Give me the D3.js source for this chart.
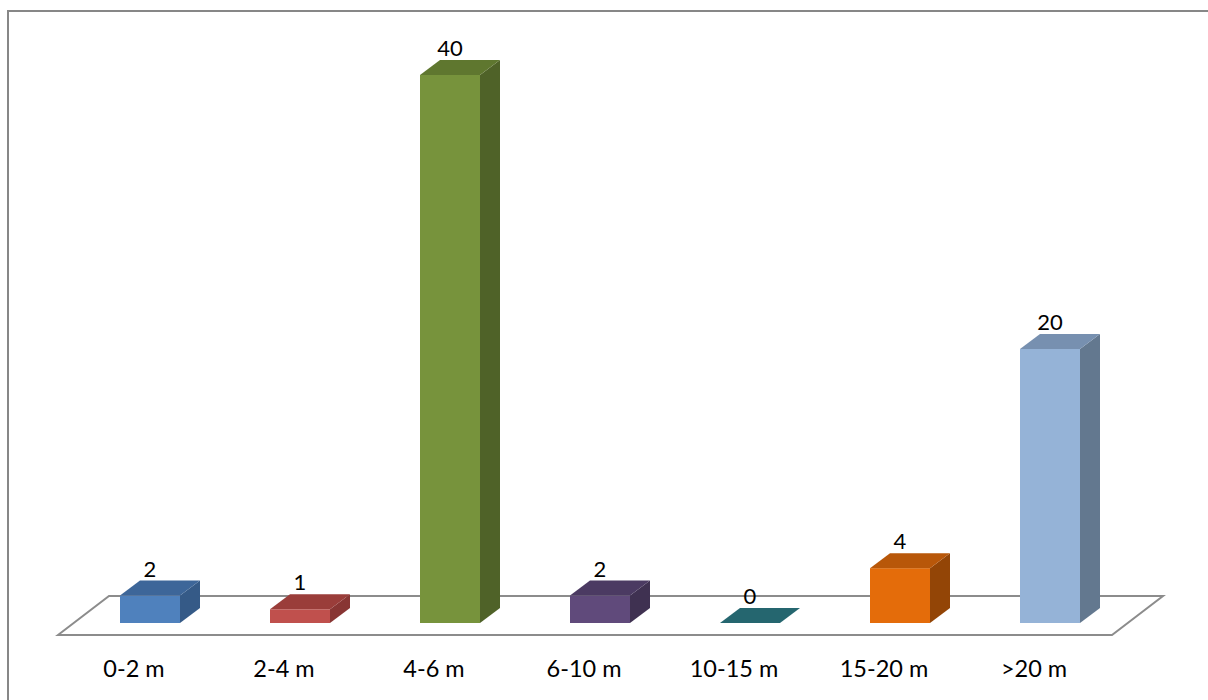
<!DOCTYPE html>
<html>
<head>
<meta charset="utf-8">
<script src="https://cdn.jsdelivr.net/npm/d3@7"></script>
<style>
  html, body { margin: 0; padding: 0; background: #ffffff; }
  svg { display: block; }
  text { font-family: Lato, "Open Sans", sans-serif; fill: #000; }
</style>
</head>
<body>
<svg id="chart" width="1208" height="700"></svg>
<script>
// Distance classes and counts
const categories = ["0-2 m", "2-4 m", "4-6 m", "6-10 m", "10-15 m", "15-20 m", ">20 m"];
const counts = [2, 1, 40, 2, 0, 4, 20];
// Face colours per bar: front, top, side
const frontColors = ["#4f81bd", "#c0504d", "#77933c", "#604a7b", "#25666f", "#e46c0a", "#95b3d7"];
const topColors   = ["#3d6699", "#9a3d3a", "#5f772f", "#4b3a62", "#23636f", "#b85709", "#7790b0"];
const sideColors  = ["#355a87", "#883533", "#4f6228", "#3f3151", "#1f5763", "#934506", "#63788f"];

const svg = d3.select("#chart");

// Outer frame
svg.append("rect")
  .attr("x", 8).attr("y", 11)
  .attr("width", 1400).attr("height", 900)
  .attr("fill", "none").attr("stroke", "#878787").attr("stroke-width", 2);

// Oblique projection for depth
const depthDx = 20, depthDy = -15;      // bar depth
const floorY = 623;                     // bar bottom (front face)
const x = d3.scaleBand().domain(categories)
  .range([75, 1125]).paddingInner(0.6).paddingOuter(0.3);
const y = d3.scaleLinear().domain([0, 40]).range([floorY, 75]);

// Floor plane
const floorFrontY = 635, floorBackY = 596;
const floorPts = [[58, floorFrontY], [109, floorBackY], [1163, floorBackY], [1112, floorFrontY]];
svg.append("polygon")
  .attr("points", floorPts.map(p => p.join(",")).join(" "))
  .attr("fill", "none").attr("stroke", "#8c8c8c").attr("stroke-width", 2);

// Bars
const g = svg.append("g");
categories.forEach((c, i) => {
  const x0 = x(c), w = x.bandwidth();
  const yt = y(counts[i]), yb = y(0);
  const bar = g.append("g");
  if (counts[i] > 0) {
    // side face
    bar.append("polygon")
      .attr("points", [[x0 + w, yb], [x0 + w + depthDx, yb + depthDy], [x0 + w + depthDx, yt + depthDy], [x0 + w, yt]].map(p => p.join(",")).join(" "))
      .attr("fill", sideColors[i]);
    // front face
    bar.append("rect")
      .attr("x", x0).attr("y", yt).attr("width", w).attr("height", yb - yt)
      .attr("fill", frontColors[i]);
  }
  // top face
  bar.append("polygon")
    .attr("points", [[x0, yt], [x0 + depthDx, yt + depthDy], [x0 + w + depthDx, yt + depthDy], [x0 + w, yt]].map(p => p.join(",")).join(" "))
    .attr("fill", counts[i] > 0 ? topColors[i] : frontColors[i]);

  // value label
  svg.append("text")
    .attr("x", x0 + w / 2).attr("y", yt + depthDy - 4)
    .attr("text-anchor", "middle").attr("font-size", 22)
    .text(counts[i]);

  // category label
  svg.append("text")
    .attr("x", x0 + w / 2 - 16).attr("y", 677)
    .attr("text-anchor", "middle").attr("font-size", 23.5)
    .text(c);
});
</script>
</body>
</html>
